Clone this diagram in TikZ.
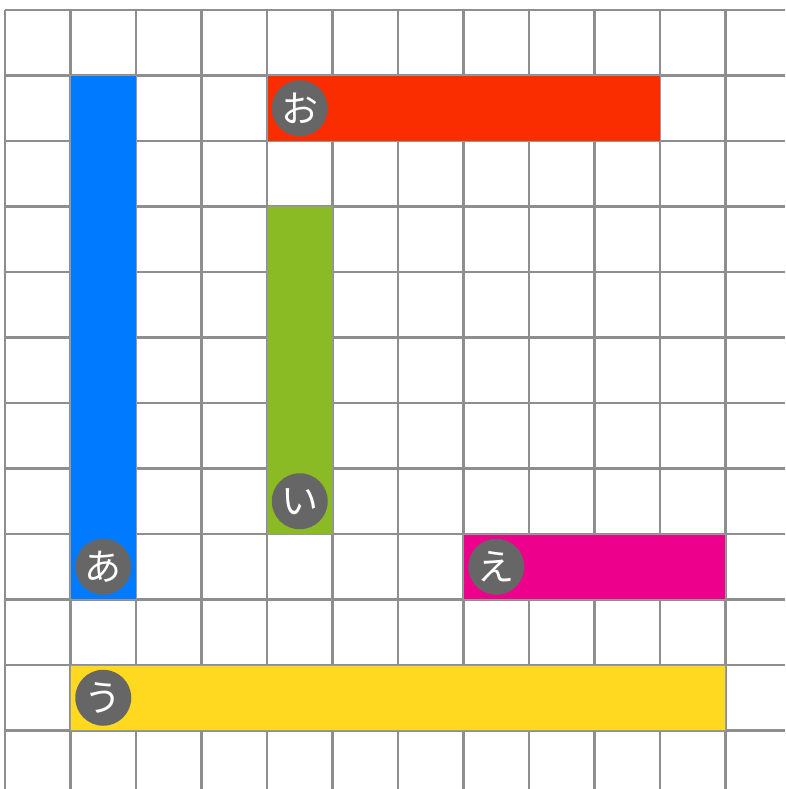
\documentclass[tikz,border=0pt]{standalone}
\usepackage{fontspec}
\newfontfamily\jpfont{Noto Sans CJK JP}
\definecolor{gridgray}{HTML}{8E8E8E}
\definecolor{cblue}{HTML}{007AFF}
\definecolor{cred}{HTML}{FA2D00}
\definecolor{cgreen}{HTML}{8ABA24}
\definecolor{cmagenta}{HTML}{EC008C}
\definecolor{cyellow}{HTML}{FFD820}
\definecolor{cgray}{HTML}{666666}
\tikzset{
  gridline/.style={draw=gridgray, line width=2.2pt},
  bar/.style={draw=gridgray!90, line width=0.8pt},
  badge/.style={circle, fill=cgray, minimum size=56pt, inner sep=0pt, text=white, font=\jpfont\fontsize{37}{37}\selectfont}
}
\begin{document}
\begin{tikzpicture}[x=1pt,y=-1pt]
\useasboundingbox (0,0) rectangle (785,789);
\fill[white] (0,0) rectangle (785,789);
\foreach \k in {0,...,11} {
  \draw[gridline] ({5+65.5*\k},10) -- ({5+65.5*\k},789);
  \draw[gridline] (5,{10+65.5*\k}) -- (785,{10+65.5*\k});
}
\draw[bar, fill=cblue] (70.5,75.5) rectangle (136,599.5);
\draw[bar, fill=cred] (267,75.5) rectangle (660,141);
\draw[bar, fill=cgreen] (267,206.5) rectangle (332.5,534);
\draw[bar, fill=cmagenta] (463.5,534) rectangle (725.5,599.5);
\draw[bar, fill=cyellow] (70.5,665) rectangle (725.5,730.5);
\node[badge] (a) at (103.25,566.75) {あ};
\node[badge] (i) at (299.75,501.25) {い};
\node[badge] (u) at (103.25,697.75) {う};
\node[badge] (e) at (496.25,566.75) {え};
\node[badge] (o) at (299.75,108.25) {お};
\end{tikzpicture}
\end{document}
